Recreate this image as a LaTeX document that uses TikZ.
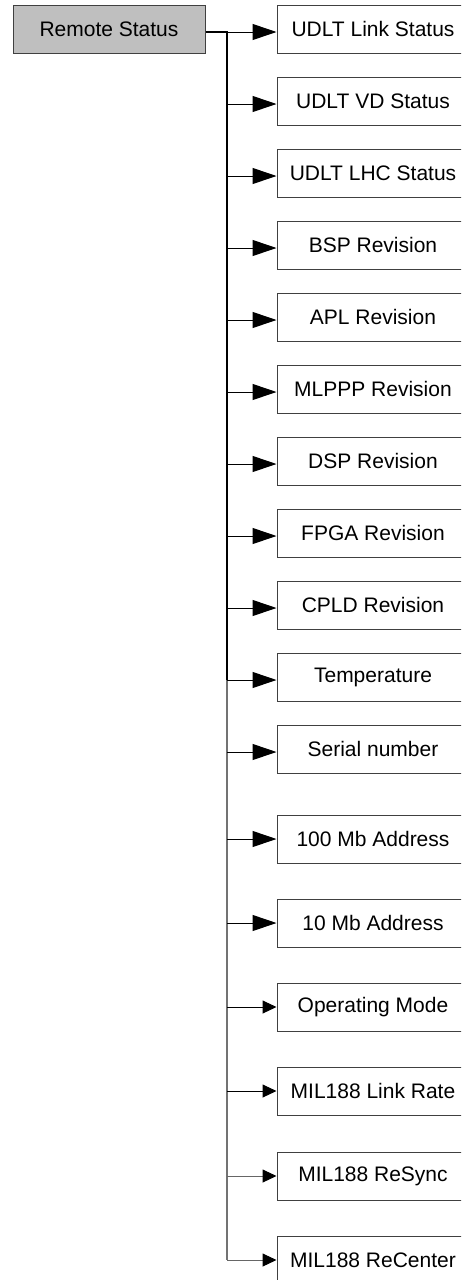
\documentclass[tikz,border=0pt]{standalone}
\usepackage{fontspec}
\setmainfont{Liberation Sans}
\usetikzlibrary{arrows.meta}
\begin{document}
\begin{tikzpicture}[x=1pt,y=-1pt,
  box/.style={draw=black!75, line width=1pt, minimum width=192pt, minimum height=48pt, inner sep=0pt, font=\fontsize{21}{25}\selectfont},
  rootbox/.style={box, fill=black!25},
  link/.style={line width=1pt, -{Triangle[length=24pt,width=16pt]}},
  slink/.style={line width=1pt, -{Triangle[length=14pt,width=13pt,color=black]}},
  trunk/.style={line width=2pt}]
\useasboundingbox (0,0) rectangle (461,1280);
\clip (0,0) rectangle (461,1280);
\node[rootbox] (r) at (109,29) {Remote Status};
\foreach \y/\t [count=\i] in {29/UDLT Link Status, 101/UDLT VD Status, 173/UDLT LHC Status, 245/BSP Revision, 317/APL Revision, 389/MLPPP Revision, 461/DSP Revision, 533/FPGA Revision, 605/CPLD Revision, 677/Temperature, 749/Serial number, 839/100 Mb Address, 923/10 Mb Address, 1007/Operating Mode, 1091/MIL188 Link Rate, 1176/MIL188 ReSync, 1260/MIL188 ReCenter}
  \node[box] (c\i) at (373,\y) {\t};
\coordinate (t0) at (227,32);
\coordinate (tm) at (227,680);
\coordinate (tb) at (227,1260);
\draw[trunk] ([yshift=-3pt]r.east) -- (t0) -- (tm);
\draw[trunk, black!55] (tm) -- (tb);
\foreach \i in {1,...,11} {
  \path ([yshift=-3pt]c\i.west) coordinate (e\i);
  \draw[link] (t0 |- e\i) -- (e\i);
}
\foreach \i in {12,13}
  \draw[link] (t0 |- c\i.west) -- (c\i.west);
\foreach \i in {14,15}
  \draw[slink] (t0 |- c\i.west) -- (c\i.west);
\foreach \i in {16,17}
  \draw[slink, draw=black!60] (t0 |- c\i.west) -- (c\i.west);
\end{tikzpicture}
\end{document}
